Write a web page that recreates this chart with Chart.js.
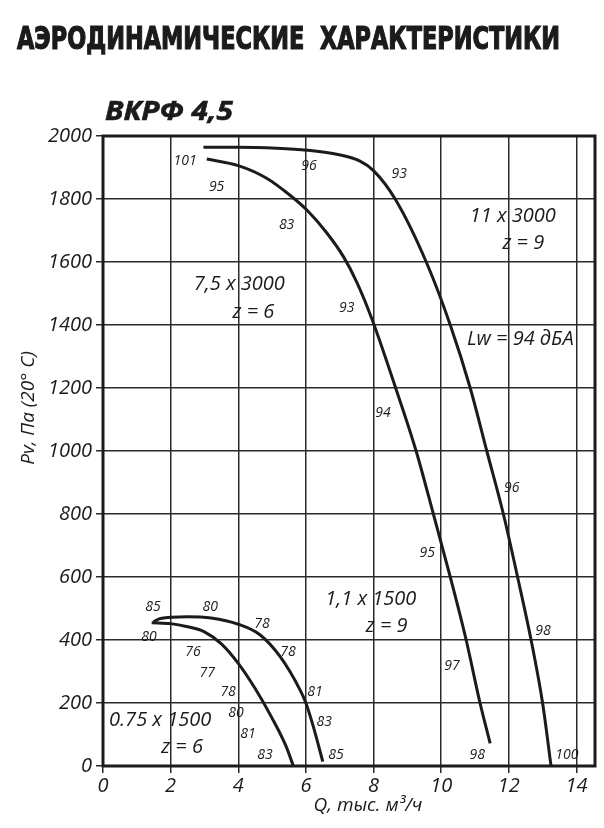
<!DOCTYPE html>
<html>
<head>
<meta charset="utf-8">
<script src="https://cdn.jsdelivr.net/npm/chart.js@4.4.1/dist/chart.umd.min.js"></script>
<style>
  html, body { margin: 0; padding: 0; background: #fff; }
  canvas { display: block; }
</style>
</head>
<body>
<canvas id="chart" width="604" height="828"></canvas>
<script>
// Q, тыс. м3/ч  /  Pv, Па
const q11x3000 = [2.97, 4.0, 5.14, 6.03, 6.91, 7.6, 8.0, 8.64, 9.56, 10.27, 10.86, 11.35, 11.84, 12.26, 12.66, 13.0, 13.25];
const p11x3000 = [1964, 1964, 1961, 1955, 1942, 1920, 1890, 1800, 1600, 1400, 1200, 1000, 800, 600, 400, 200, 0];

const q75x3000 = [3.07, 4.0, 4.84, 5.53, 6.03, 6.62, 7.11, 7.5, 7.95, 8.64, 9.26, 9.77, 10.27, 10.74, 11.15, 11.45];
const p75x3000 = [1927, 1906, 1866, 1812, 1765, 1692, 1617, 1537, 1420, 1205, 1000, 800, 600, 400, 200, 72];

const q11x1500 = [1.49, 1.7, 2.48, 3.2, 4.0, 4.65, 5.24, 5.83, 6.0, 6.22, 6.5];
const p11x1500 = [458, 468, 474, 470, 450, 416, 347, 241, 200, 125, 14];

const q075x1500 = [1.44, 2.0, 2.5, 3.0, 3.5, 4.0, 4.5, 5.0, 5.4, 5.63];
const p075x1500 = [455, 452, 442, 426, 388, 326, 246, 152, 66, 0];

const xTicks = [0, 2, 4, 6, 8, 10, 12, 14];
const yTicks = [0, 200, 400, 600, 800, 1000, 1200, 1400, 1600, 1800, 2000];

// noise levels written along the curves: [Q, Pv, text]
const soundMarks = [
  [2.43, 1922, '101'], [3.36, 1837, '95'], [6.09, 1905, '96'], [8.76, 1879, '93'],
  [5.43, 1717, '83'], [7.21, 1455, '93'], [8.28, 1122, '94'], [12.09, 883, '96'],
  [9.59, 676, '95'], [10.32, 317, '97'], [13.01, 429, '98'], [11.07, 35, '98'],
  [13.72, 35, '100'],
  [1.48, 505, '85'], [3.17, 505, '80'], [4.70, 451, '78'], [5.47, 362, '78'],
  [6.27, 235, '81'], [6.54, 140, '83'], [6.89, 35, '85'],
  [1.36, 410, '80'], [2.66, 362, '76'], [3.08, 295, '77'], [3.70, 235, '78'],
  [3.93, 168, '80'], [4.29, 102, '81'], [4.79, 35, '83']
];

// motor captions: [Q, Pv, text]
const motorNotes = [
  [4.03, 1529, '7,5 x 3000'], [4.45, 1439, 'z = 6'],
  [12.12, 1746, '11 x 3000'], [12.43, 1660, 'z = 9'],
  [12.34, 1356, 'Lw = 94 дБА'],
  [7.92, 530, '1,1 x 1500'], [8.39, 442, 'z = 9'],
  [1.69, 146, '0.75 x 1500'], [2.34, 60, 'z = 6']
];

const heading = 'АЭРОДИНАМИЧЕСКИЕ  ХАРАКТЕРИСТИКИ';
const model = 'ВКРФ 4,5';
const xTitle = 'Q, тыс. м³/ч';
const yTitle = 'Pv, Па (20° C)';

const ink = '#1b1b1b';
const italic = '"Open Sans", "Noto Sans", sans-serif';

function toPoints(qs, ps) {
  return qs.map((q, i) => ({ x: q, y: ps[i] }));
}

function curve(qs, ps) {
  return {
    data: toPoints(qs, ps),
    showLine: true,
    borderColor: ink,
    borderWidth: 3,
    pointRadius: 0,
    cubicInterpolationMode: 'monotone',
    fill: false
  };
}

// squeeze text to a given width
function fitText(ctx, text, x, base, width, bold) {
  const w = ctx.measureText(text).width;
  ctx.save();
  ctx.translate(x, base);
  ctx.scale(width / w, 1);
  ctx.fillText(text, 0, 0);
  if (bold) {
    ctx.lineWidth = bold;
    ctx.strokeStyle = ctx.fillStyle;
    ctx.strokeText(text, 0, 0);
  }
  ctx.restore();
}

const frameAndText = {
  id: 'frameAndText',
  afterDraw(chart) {
    const { ctx, chartArea: a, scales: { x, y } } = chart;
    ctx.save();

    ctx.strokeStyle = ink;
    ctx.lineWidth = 3;
    ctx.strokeRect(a.left, a.top, a.right - a.left, a.bottom - a.top);

    ctx.fillStyle = ink;
    ctx.textAlign = 'left';
    ctx.textBaseline = 'alphabetic';
    ctx.font = 'bold 32px "Liberation Sans Narrow", "DejaVu Sans Condensed", "Liberation Sans", sans-serif';
    fitText(ctx, heading, 17, 49, 543, 1.2);

    ctx.font = 'italic bold 27px ' + italic;
    fitText(ctx, model, 105, 120, 128, 0.6);

    ctx.textAlign = 'center';
    ctx.textBaseline = 'middle';

    ctx.font = 'italic 14px ' + italic;
    soundMarks.forEach(([q, p, t]) => {
      ctx.fillText(t, x.getPixelForValue(q), y.getPixelForValue(p));
    });

    ctx.font = 'italic 20px ' + italic;
    motorNotes.forEach(([q, p, t]) => {
      ctx.fillText(t, x.getPixelForValue(q), y.getPixelForValue(p));
    });

    ctx.font = 'italic 19px ' + italic;
    ctx.fillText(xTitle, 368, 806);

    ctx.translate(29, 408);
    ctx.rotate(-Math.PI / 2);
    ctx.fillText(yTitle, 0, 0);

    ctx.restore();
  }
};

new Chart(document.getElementById('chart'), {
  type: 'scatter',
  data: {
    datasets: [
      curve(q11x3000, p11x3000),
      curve(q75x3000, p75x3000),
      curve(q11x1500, p11x1500),
      curve(q075x1500, p075x1500)
    ]
  },
  options: {
    responsive: false,
    animation: false,
    layout: { padding: { left: 0, top: 136, right: 9, bottom: 0 } },
    plugins: {
      legend: { display: false },
      tooltip: { enabled: false }
    },
    scales: {
      x: {
        type: 'linear',
        min: 0,
        max: 14.55,
        afterFit(scale) { scale.height = 62; },
        afterBuildTicks(scale) { scale.ticks = xTicks.map(v => ({ value: v })); },
        border: { display: false },
        grid: { color: '#2a2a2a', lineWidth: 1.5, tickLength: 7 },
        ticks: {
          color: ink,
          padding: 1,
          callback: v => String(v),
          font: { family: italic, size: 20, style: 'italic' }
        }
      },
      y: {
        type: 'linear',
        min: 0,
        max: 2000,
        afterFit(scale) { scale.width = 103; },
        afterBuildTicks(scale) { scale.ticks = yTicks.map(v => ({ value: v })); },
        border: { display: false },
        grid: { color: '#2a2a2a', lineWidth: 1.5, tickLength: 7 },
        ticks: {
          color: ink,
          padding: 4,
          callback: v => String(v),
          font: { family: italic, size: 20, style: 'italic' }
        }
      }
    }
  },
  plugins: [frameAndText]
});
</script>
</body>
</html>
